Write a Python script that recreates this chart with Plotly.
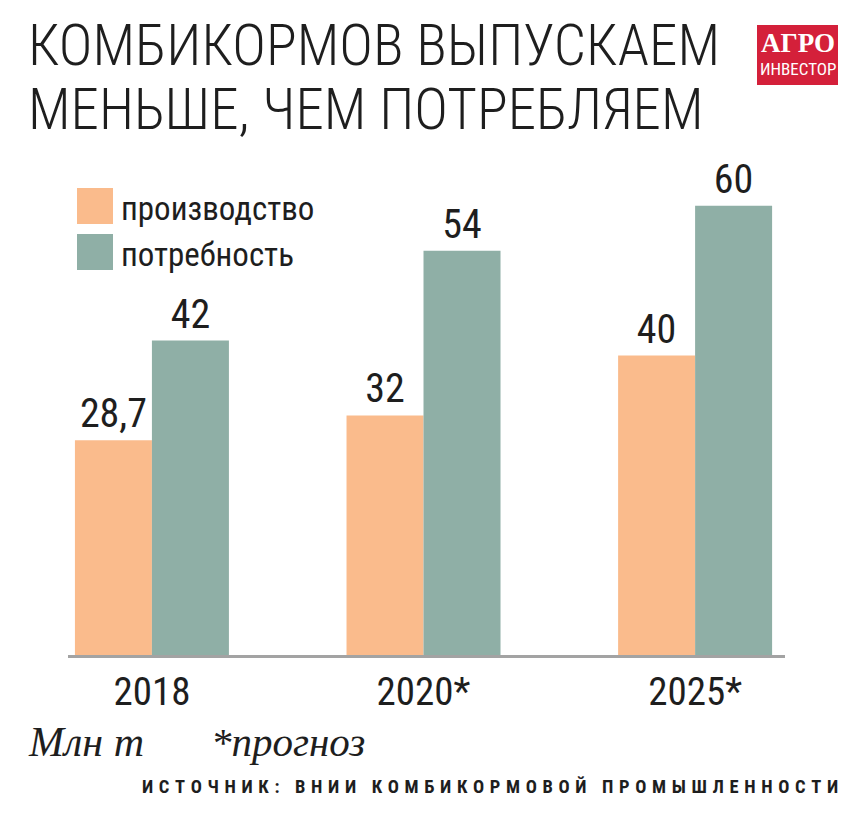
import plotly.graph_objects as go

categories = ["2018", "2020*", "2025*"]
production = [28.7, 32, 40]
demand = [42, 54, 60]
prod_labels = ["28,7", "32", "40"]
demand_labels = ["42", "54", "60"]

ORANGE = "#FABB8C"
TEAL = "#8FAFA6"
COND = "Roboto Condensed, Roboto, sans-serif"
SERIF = "Liberation Serif, DejaVu Serif, serif"
INK = "#1e1e1e"

# reference-pixel helpers (page has an 8px body margin; plot area 68..785 x 131..655)
def px(x):
    return (x - 68) / 717

def py(y):
    return (655 - y) / 524

fig = go.Figure()
fig.add_trace(go.Bar(
    x=categories, y=production, name="производство",
    marker=dict(color=ORANGE, line=dict(width=0)),
    text=prod_labels, textposition="outside", cliponaxis=False,
    textfont=dict(family=COND, size=40, color=INK),
))
fig.add_trace(go.Bar(
    x=categories, y=demand, name="потребность",
    marker=dict(color=TEAL, line=dict(width=0)),
    text=demand_labels, textposition="outside", cliponaxis=False,
    textfont=dict(family=COND, size=40, color=INK),
))

fig.update_layout(
    width=840, height=814,
    margin=dict(l=60, r=63, t=123, b=167),
    paper_bgcolor="white", plot_bgcolor="white",
    barmode="group", bargap=0.433, bargroupgap=0,
    showlegend=False,
    uniformtext=dict(mode=False),
    xaxis=dict(
        range=[-0.309, 2.331], showline=True, linecolor="#a3a3a3", linewidth=3,
        showgrid=False, ticks="", zeroline=False,
        tickfont=dict(family=COND, size=39, color=INK),
        ticklabelstandoff=0,
    ),
    yaxis=dict(range=[0, 70], visible=False, showgrid=False, zeroline=False),
)

# Title (two lines)
for line, yc in [("КОМБИКОРМОВ ВЫПУСКАЕМ", 46), ("МЕНЬШЕ, ЧЕМ ПОТРЕБЛЯЕМ", 109)]:
    fig.add_annotation(xref="paper", yref="paper", xanchor="left", yanchor="middle",
        x=px(26), y=py(yc), showarrow=False, text=line,
        font=dict(family=COND, size=57, weight=300, color=INK))

# Logo
fig.add_shape(type="rect", xref="paper", yref="paper", layer="above",
    x0=px(757), x1=px(838), y0=py(85), y1=py(25),
    fillcolor="#D4203A", line=dict(width=0))
fig.add_annotation(xref="paper", yref="paper", xanchor="center", yanchor="middle",
    x=px(797.5), y=py(43), showarrow=False,
    text="<b>АГРО</b>", font=dict(family=SERIF, size=27, color="white"))
fig.add_annotation(xref="paper", yref="paper", xanchor="center", yanchor="middle",
    x=px(797.5), y=py(69), showarrow=False,
    text="ИНВЕСТОР", font=dict(family=COND, size=17, color="white"))

# Legend
legend_items = [("производство", ORANGE, 188), ("потребность", TEAL, 234)]
for name, col, top in legend_items:
    fig.add_shape(type="rect", xref="paper", yref="paper",
        x0=px(77), x1=px(113), y0=py(top + 36), y1=py(top),
        fillcolor=col, line=dict(width=0))
    fig.add_annotation(xref="paper", yref="paper", xanchor="left", yanchor="middle",
        x=px(119), y=py(top + 20), showarrow=False,
        text=name, font=dict(family=COND, size=33, color=INK))

# Units and note
fig.add_annotation(xref="paper", yref="paper", xanchor="left", yanchor="middle",
    x=px(26), y=py(742), showarrow=False,
    text="<i>Млн т</i>", font=dict(family=SERIF, size=42, color=INK))
fig.add_annotation(xref="paper", yref="paper", xanchor="left", yanchor="middle",
    x=px(209), y=py(742), showarrow=False,
    text="<i>*прогноз</i>", font=dict(family=SERIF, size=41, color=INK))

src = "ИСТОЧНИК: ВНИИ КОМБИКОРМОВОЙ ПРОМЫШЛЕННОСТИ"
src_spaced = "\u2004".join(list(src))
fig.add_annotation(xref="paper", yref="paper", xanchor="right", yanchor="middle",
    x=px(840), y=py(787), showarrow=False,
    text="<b>" + src_spaced + "</b>",
    font=dict(family=COND, size=18.5, color=INK))

fig.write_html("out.html")
